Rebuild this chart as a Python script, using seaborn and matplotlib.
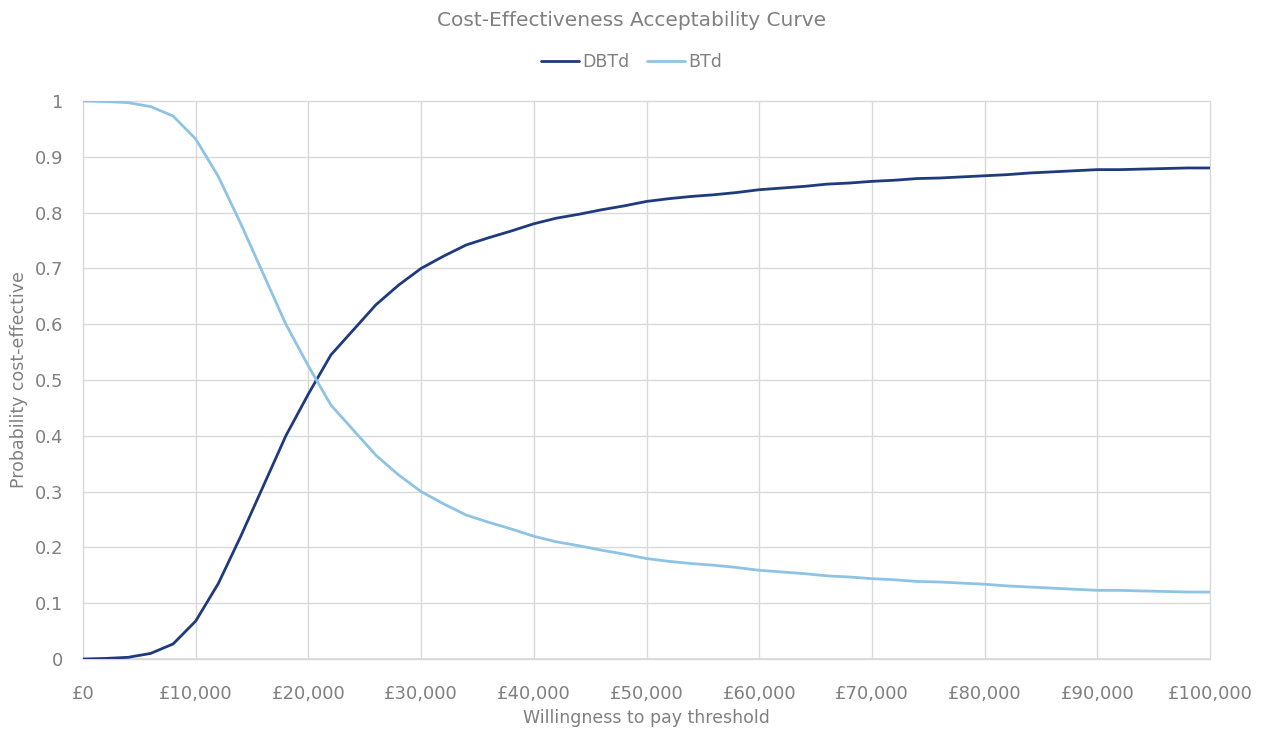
import matplotlib
matplotlib.use("Agg")
import matplotlib.pyplot as plt
import seaborn as sns
import pandas as pd
import numpy as np
from matplotlib.ticker import FuncFormatter, MultipleLocator
from matplotlib.lines import Line2D

thresholds = list(range(0, 100001, 2000))
dbtd = [0.0, 0.001, 0.003, 0.010, 0.027, 0.068, 0.135, 0.22, 0.31, 0.40,
        0.475, 0.545, 0.59, 0.635, 0.67, 0.70, 0.722, 0.742, 0.755, 0.767,
        0.78, 0.79, 0.797, 0.805, 0.812, 0.82, 0.825, 0.829, 0.832, 0.836,
        0.841, 0.844, 0.847, 0.851, 0.853, 0.856, 0.858, 0.861, 0.862, 0.864,
        0.866, 0.868, 0.871, 0.873, 0.875, 0.877, 0.877, 0.878, 0.879, 0.880,
        0.880]
btd = [1.0, 0.999, 0.997, 0.99, 0.973, 0.932, 0.865, 0.78, 0.69, 0.60,
       0.525, 0.455, 0.41, 0.365, 0.33, 0.30, 0.278, 0.258, 0.245, 0.233,
       0.22, 0.21, 0.203, 0.195, 0.188, 0.18, 0.175, 0.171, 0.168, 0.164,
       0.159, 0.156, 0.153, 0.149, 0.147, 0.144, 0.142, 0.139, 0.138, 0.136,
       0.134, 0.131, 0.129, 0.127, 0.125, 0.123, 0.123, 0.122, 0.121, 0.120,
       0.120]
series_names = ["DBTd", "BTd"]

df = pd.DataFrame({"threshold": thresholds * 2,
                   "prob": dbtd + btd,
                   "series": [series_names[0]] * len(thresholds) + [series_names[1]] * len(thresholds)})

sns.set_theme(style="white")
plt.rcParams['font.family'] = ['DejaVu Sans']
txt = "#808080"

fig = plt.figure(figsize=(12.63, 7.31), dpi=100)
ax = fig.add_axes([83/1263, 1-659/731, (1210-83)/1263, (659-101)/731])

palette = {"DBTd": "#1f3a7d", "BTd": "#8fc3e4"}
sns.lineplot(data=df, x="threshold", y="prob", hue="series", palette=palette,
             linewidth=2.0, ax=ax, legend=False, zorder=3)

ax.set_xlim(0, 100000)
ax.set_ylim(0, 1)
ax.xaxis.set_major_locator(MultipleLocator(10000))
ax.yaxis.set_major_locator(MultipleLocator(0.1))
ax.xaxis.set_major_formatter(FuncFormatter(lambda v, p: f"£{int(round(v)):,}"))
ax.yaxis.set_major_formatter(FuncFormatter(lambda v, p: "0" if abs(v) < 1e-9 else ("1" if abs(v-1) < 1e-9 else f"{v:.1f}")))
ax.grid(True, color="#d9d9d9", linewidth=1.0)
for gl in ax.get_xgridlines() + ax.get_ygridlines():
    gl.set_clip_on(False)
for s in ["top", "right", "left"]:
    ax.spines[s].set_visible(False)
ax.spines["bottom"].set_color("#d9d9d9")
ax.tick_params(axis="both", colors=txt, labelsize=13, length=0)
ax.tick_params(axis="x", pad=19)
ax.tick_params(axis="y", pad=14)
ax.set_xlabel("Willingness to pay threshold", color=txt, fontsize=12.5, labelpad=4)
ax.set_ylabel("Probability cost-effective", color=txt, fontsize=12.5, labelpad=5)

fig.text(0.5, 1-20/731, "Cost-Effectiveness Acceptability Curve", ha="center", va="center",
         color=txt, fontsize=14.5)

handles = [Line2D([0], [0], color=palette[n], lw=2.0) for n in series_names]
fig.legend(handles, series_names, loc="center", bbox_to_anchor=(0.5, 1-62/731), ncol=2,
           frameon=False, fontsize=12.5, labelcolor=txt, handlelength=2.2,
           handletextpad=0.2, columnspacing=1.0)

fig.savefig("out.png", dpi=100)
